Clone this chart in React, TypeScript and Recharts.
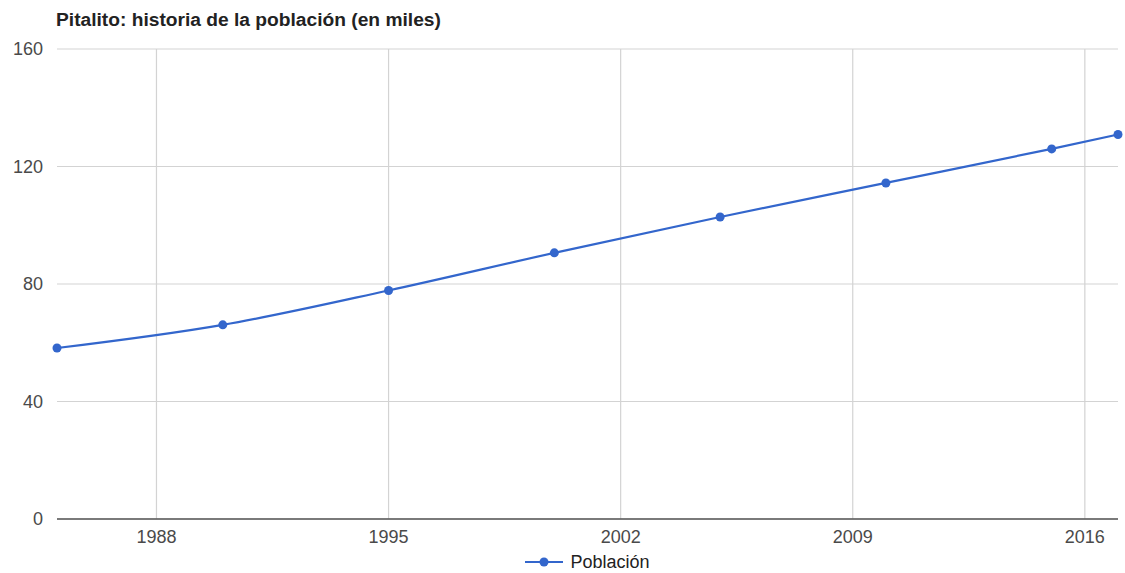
import { CartesianGrid, Legend, Line, LineChart, XAxis, YAxis } from "recharts";

const years = [1985, 1990, 1995, 2000, 2005, 2010, 2015, 2017];
const poblacion = [58.2, 66.1, 77.8, 90.6, 102.8, 114.4, 126.0, 130.9];
const xTicks = [1988, 1995, 2002, 2009, 2016];
const yTicks = [0, 40, 80, 120, 160];

const data = years.map((year, i) => ({ year, poblacion: poblacion[i] }));

const FONT = '"Liberation Sans", Arial, sans-serif';
const BLUE = "#3366cc";

function LegendContent() {
  return (
    <div
      style={{
        display: "flex",
        justifyContent: "center",
        alignItems: "center",
        height: 24,
        fontFamily: FONT,
        fontSize: 18,
        color: "#222",
      }}
    >
      <svg width={38} height={12} style={{ marginRight: 7 }}>
        <line x1={0} y1={6} x2={38} y2={6} stroke={BLUE} strokeWidth={2} />
        <circle cx={19} cy={6} r={4.5} fill={BLUE} />
      </svg>
      <span>Población</span>
    </div>
  );
}

// only the tick positions get vertical grid lines (no lines on the plot edges)
const verticalLines = ({ xAxis, offset }: any) =>
  xTicks.map((t) =>
    xAxis && typeof xAxis.scale === "function"
      ? xAxis.scale(t)
      : offset.left + ((t - 1985) / (2017 - 1985)) * offset.width
  );

export default function App() {
  return (
    <div
      style={{
        position: "absolute",
        left: 0,
        top: 0,
        width: 1125,
        height: 573,
        background: "#fff",
      }}
    >
      <div
        style={{
          position: "absolute",
          left: 56,
          top: 10,
          fontFamily: FONT,
          fontWeight: "bold",
          fontSize: 19.2,
          lineHeight: "19px",
          color: "#222",
          whiteSpace: "nowrap",
          zIndex: 1,
        }}
      >
        Pitalito: historia de la población (en miles)
      </div>
      <LineChart
        width={1125}
        height={573}
        data={data}
        margin={{ top: 49, right: 7, left: 0, bottom: 24 }}
      >
        <CartesianGrid
          stroke="#d3d3d3"
          strokeWidth={1.2}
          verticalCoordinatesGenerator={verticalLines}
        />
        <XAxis
          dataKey="year"
          type="number"
          domain={[1985, 2017]}
          ticks={xTicks}
          height={30}
          tickLine={false}
          tickSize={0}
          tickMargin={11}
          axisLine={{ stroke: "#555", strokeWidth: 1.6 }}
          tick={{ fill: "#4a4a4a", fontSize: 18, fontFamily: FONT }}
        />
        <YAxis
          type="number"
          domain={[0, 160]}
          ticks={yTicks}
          width={57}
          axisLine={false}
          tickLine={false}
          tickSize={0}
          tickMargin={14}
          tick={{ fill: "#4a4a4a", fontSize: 18, fontFamily: FONT }}
        />
        <Legend
          verticalAlign="middle"
          align="center"
          layout="horizontal"
          wrapperStyle={{ top: 550, left: 57, width: 1061 }}
          content={<LegendContent />}
        />
        <Line
          type="monotone"
          dataKey="poblacion"
          name="Población"
          stroke={BLUE}
          strokeWidth={2.2}
          dot={{ r: 4.5, fill: BLUE, stroke: BLUE, strokeWidth: 0 }}
          activeDot={false}
          isAnimationActive={false}
        />
      </LineChart>
    </div>
  );
}
